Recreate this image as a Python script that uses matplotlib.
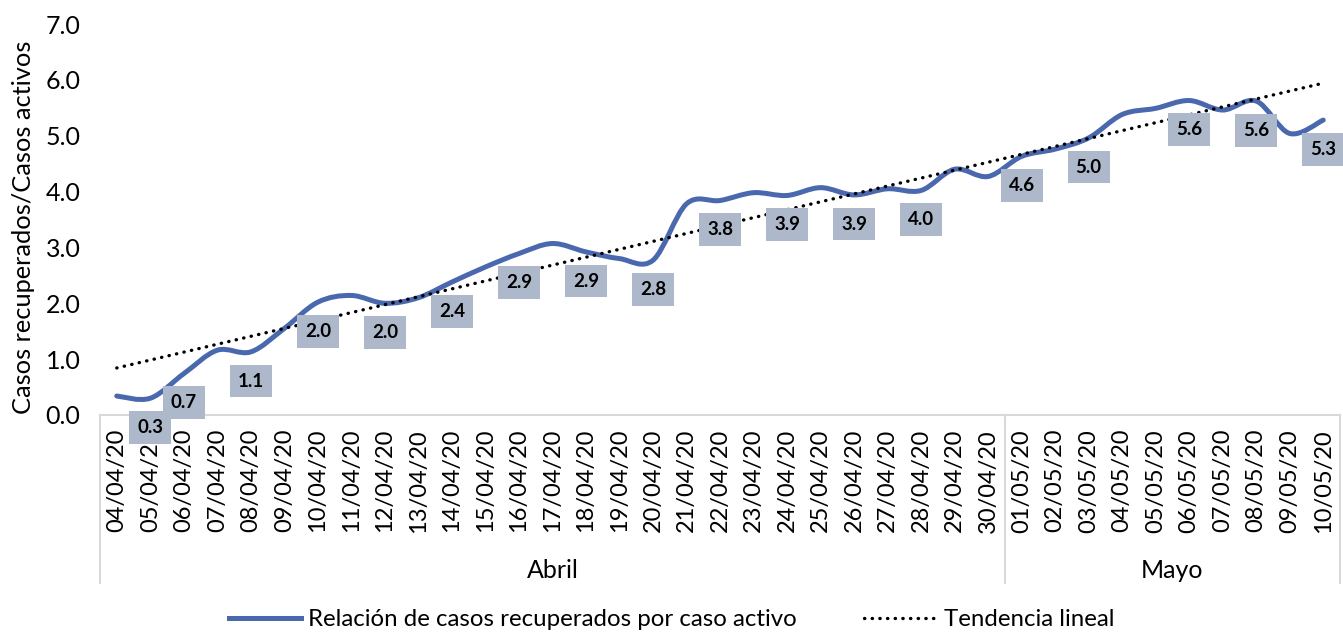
import numpy as np
import matplotlib
matplotlib.use("Agg")
import matplotlib.pyplot as plt
from matplotlib.path import Path
from matplotlib.patches import PathPatch
from matplotlib.lines import Line2D
import matplotlib.transforms as mtransforms

plt.rcParams['font.family'] = ['Lato', 'DejaVu Sans']

# ---------------- data ----------------
dates = ['04/04/20', '05/04/20', '06/04/20', '07/04/20', '08/04/20', '09/04/20',
         '10/04/20', '11/04/20', '12/04/20', '13/04/20', '14/04/20', '15/04/20',
         '16/04/20', '17/04/20', '18/04/20', '19/04/20', '20/04/20', '21/04/20',
         '22/04/20', '23/04/20', '24/04/20', '25/04/20', '26/04/20', '27/04/20',
         '28/04/20', '29/04/20', '30/04/20', '01/05/20', '02/05/20', '03/05/20',
         '04/05/20', '05/05/20', '06/05/20', '07/05/20', '08/05/20', '09/05/20',
         '10/05/20']
ratio = [0.34, 0.30, 0.74, 1.16, 1.13, 1.55, 2.02, 2.14, 2.00, 2.10,
         2.38, 2.65, 2.89, 3.07, 2.92, 2.80, 2.77, 3.78, 3.84, 3.98,
         3.93, 4.07, 3.94, 4.05, 4.02, 4.40, 4.27, 4.63, 4.76, 4.96,
         5.38, 5.49, 5.63, 5.46, 5.62, 5.04, 5.28]
labeled_idx = [1, 2, 4, 6, 8, 10, 12, 14, 16, 18, 20, 22, 24, 27, 29, 32, 34, 36]
months = ['Abril', 'Mayo']
month_counts = [27, 10]

series_name = 'Relación de casos recuperados por caso activo'
trend_name = 'Tendencia lineal'
ylabel = 'Casos recuperados/Casos activos'

blue = '#4a68ae'
label_bg = '#adb9ca'
grid_gray = '#d9d9d9'

# ---------------- figure ----------------
fig = plt.figure(figsize=(13.43, 6.33), dpi=100)
W, H = 1343, 633
ax = fig.add_axes([100 / W, 1 - 415 / H, 1240 / W, 391 / H])

x = np.arange(len(ratio))
y = np.array(ratio)

# smoothed line (Excel-style bezier through points)
verts = [(x[0], y[0])]
codes = [Path.MOVETO]
n = len(x)
for i in range(n - 1):
    p0 = np.array([x[max(i - 1, 0)], y[max(i - 1, 0)]])
    p1 = np.array([x[i], y[i]])
    p2 = np.array([x[i + 1], y[i + 1]])
    p3 = np.array([x[min(i + 2, n - 1)], y[min(i + 2, n - 1)]])
    c1 = p1 + (p2 - p0) / 6
    c2 = p2 - (p3 - p1) / 6
    verts += [tuple(c1), tuple(c2), tuple(p2)]
    codes += [Path.CURVE4] * 3
ax.add_patch(PathPatch(Path(verts, codes), facecolor='none', edgecolor=blue,
                       lw=3.6, capstyle='round', joinstyle='round', zorder=3))

# linear trend
coef = np.polyfit(x, y, 1)
dots = (0, (0.1, 2.2))
ax.plot(x, np.polyval(coef, x), color='black', lw=2.4,
        linestyle=dots, dash_capstyle='round', zorder=4)

# data labels
for i in labeled_idx:
    ax.annotate(f'{ratio[i]:.1f}', (x[i], y[i]), xytext=(0, -21),
                textcoords='offset points', ha='center', va='center',
                fontsize=13.5, fontweight='bold', color='black', zorder=5,
                bbox=dict(boxstyle='square,pad=0.42', fc=label_bg, ec='none'))

ax.set_xlim(-0.5, n - 0.5)
ax.set_ylim(0, 7)
ax.set_yticks(np.arange(0, 7.01, 1.0))
ax.set_yticklabels([f'{v:.1f}' for v in np.arange(0, 7.01, 1.0)], fontsize=18)
ax.set_xticks(x)
ax.set_xticklabels(dates, rotation=90, fontsize=17, va='top')
ax.tick_params(axis='both', length=0)
ax.tick_params(axis='y', pad=14)
ax.tick_params(axis='x', pad=10)
ax.set_ylabel(ylabel, fontsize=18.3)
ax.yaxis.set_label_coords(-(100 - 35) / 1240, 0.48)

for s in ['top', 'right', 'left']:
    ax.spines[s].set_visible(False)
ax.spines['bottom'].set_color(grid_gray)
ax.spines['bottom'].set_linewidth(1.5)

# category box with month groups
trans = mtransforms.blended_transform_factory(ax.transData, ax.transAxes)
box_bottom = -(583 - 415) / 391
edges = [-0.5]
for c in month_counts:
    edges.append(edges[-1] + c)
for e in edges:
    ax.plot([e, e], [0, box_bottom], color=grid_gray, lw=1.5, transform=trans,
            clip_on=False)
for m, a, b in zip(months, edges[:-1], edges[1:]):
    ax.text((a + b) / 2, -(570 - 415) / 391, m, transform=trans, ha='center',
            va='center', fontsize=18)

handles = [Line2D([], [], color=blue, lw=3.6),
           Line2D([], [], color='black', lw=2.4, linestyle=dots,
                  dash_capstyle='round')]
fig.legend(handles, [series_name, trend_name], loc='center',
           bbox_to_anchor=(0.5, 1 - 620 / H), ncol=2, frameon=False,
           fontsize=17.3, handlelength=3.0, columnspacing=2.8, handletextpad=0.3)

fig.savefig('out.png', dpi=100)
